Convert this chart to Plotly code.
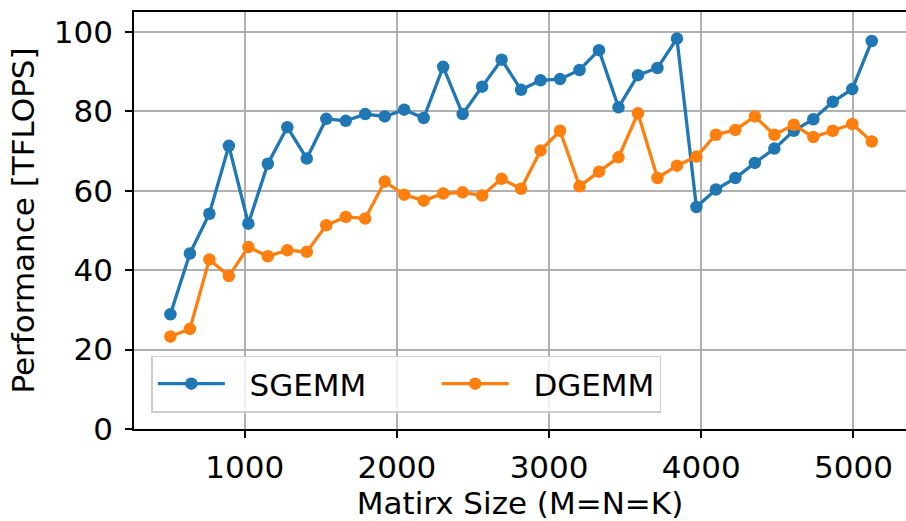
import plotly.graph_objects as go

# Matrix sizes (M = N = K), step 128
sizes = list(range(512, 5121, 128))

# Measured throughput in TFLOPS
sgemm = [28.9, 44.2, 54.2, 71.3, 51.7, 66.8, 76.0, 68.1, 78.1, 77.6, 79.3, 78.7, 80.4,
         78.3, 91.2, 79.3, 86.2, 93.0, 85.4, 87.8, 88.1, 90.4, 95.4, 81.0, 89.1, 90.9,
         98.3, 55.9, 60.3, 63.2, 67.0, 70.6, 75.1, 78.0, 82.4, 85.6, 97.7]
dgemm = [23.3, 25.2, 42.7, 38.5, 45.8, 43.5, 45.0, 44.6, 51.3, 53.4, 53.0, 62.3, 59.0,
         57.5, 59.3, 59.6, 58.8, 63.0, 60.5, 70.1, 75.1, 61.1, 64.8, 68.4, 79.5, 63.2,
         66.3, 68.6, 74.1, 75.3, 78.7, 74.1, 76.6, 73.5, 75.1, 76.8, 72.4]

series_names = ["SGEMM", "DGEMM"]
x_ticks = [1000, 2000, 3000, 4000, 5000]
y_ticks = [0, 20, 40, 60, 80, 100]

FONT = "DejaVu Sans"
FS = 31
NB = "\u00a0"
THIN = "\u2009"

# legend labels padded with non-breaking spaces to space the two entries
legend_labels = [NB * 2 + series_names[0] + NB * 6 + THIN, NB * 2 + series_names[1]]

fig = go.Figure()
fig.add_trace(go.Scatter(x=sizes, y=sgemm, name=legend_labels[0], mode="lines+markers",
                         line=dict(color="#1f77b4", width=3.3),
                         marker=dict(color="#1f77b4", size=12.5)))
fig.add_trace(go.Scatter(x=sizes, y=dgemm, name=legend_labels[1], mode="lines+markers",
                         line=dict(color="#ff7f0e", width=3.3),
                         marker=dict(color="#ff7f0e", size=12.5)))

axis_common = dict(
    showgrid=True, gridcolor="#b0b0b0", gridwidth=1.7,
    showline=True, linecolor="black", linewidth=1.7,
    ticks="outside", ticklen=7, tickwidth=1.7, tickcolor="black",
    tickfont=dict(family=FONT, size=FS, color="black"),
    zeroline=False,
)

fig.update_layout(
    width=906, height=521,
    margin=dict(l=134, r=0, t=12, b=92),
    paper_bgcolor="white", plot_bgcolor="white",
    font=dict(family=FONT, size=FS, color="black"),
    xaxis=dict(range=[272.7, 5345], tickvals=x_ticks, mirror=True,
               title=dict(text="Matirx Size (M=N=K)", font=dict(family=FONT, size=FS), standoff=3),
               ticklabelstandoff=3, **axis_common),
    yaxis=dict(range=[0, 105], tickvals=y_ticks,
               title=dict(text="Performance [TFLOPS]", font=dict(family=FONT, size=FS), standoff=10),
               ticklabelstandoff=6, **axis_common),
    legend=dict(orientation="h", x=0.0225, y=0.0395, xanchor="left", yanchor="bottom",
                bgcolor="rgba(255,255,255,0.8)", bordercolor="#cccccc", borderwidth=1.5,
                font=dict(family=FONT, size=FS, color="black"),
                itemwidth=67),
    showlegend=True,
)

fig.write_html("out.html")
